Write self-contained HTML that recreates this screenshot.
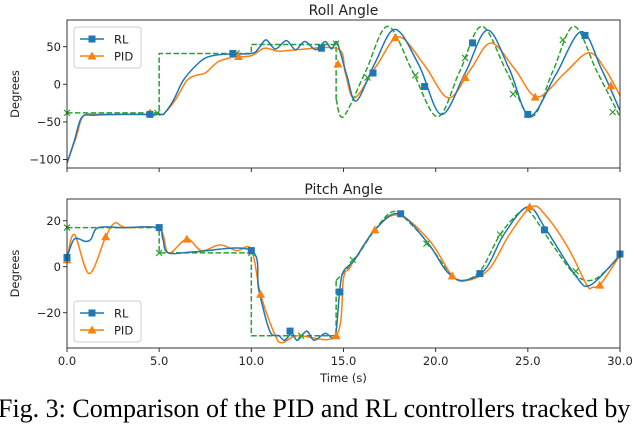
<!DOCTYPE html>
<html><head><meta charset="utf-8">
<style>
html,body{margin:0;padding:0;background:#fff;overflow:hidden;width:640px;height:416px}
svg{display:block;font-family:"DejaVu Sans","Liberation Sans",sans-serif}
.cap{position:absolute;left:-2px;top:394px;font-family:"Liberation Serif",serif;font-size:26px;line-height:30px;white-space:nowrap;color:#000}
</style></head>
<body>
<svg id="chart" width="640" height="416"></svg>
<div class="cap">Fig. 3: Comparison of the PID and RL controllers tracked by</div>
<script>
// ---------- Roll data ----------
const rollRefStepT=[0,5,5,10,10,14.6,14.6];
const rollRefStepV=[-38,-38,41,41,53,53,-20];
const rollRefSinT=[14.6,15.0,16.2,17.4,18.75,20.1,21.3,22.5,23.85,25.2,26.35,27.5,28.75,30];
const rollRefSinV=[-20,-43,17,77,17,-43,17,77,17,-43,17,77,17,-43];
const rollRefMarkT=[0,4.9,9.2,14.6,16.3,18.9,21.6,24.2,26.9,29.6];
const rollRefMarkV=[-38,-38,41,54,9,12,35,-13,59,-37];
const rollRLT=[0,0.4,0.8,1.5,3,5,5.3,5.8,6.3,7,7.6,8.5,10,10.4,10.8,11.3,11.9,12.4,12.9,13.5,14.0,14.35,14.6,14.8,15.2,15.7,16.7,17.8,19.1,20.3,21.6,22.8,24.0,25.1,26.5,27.9,29.0,30];
const rollRLV=[-105,-75,-44,-41,-40,-40,-38,-20,5,25,36,40,41,48,59,47,58,46,57,46,57,47,57,45,10,-22,28,73,25,-40,15,72,20,-42,12,70,20,-35];
const rollRLMarkT=[4.5,9.0,13.8,16.6,19.4,22.0,25.0,28.1];
const rollRLMarkV=[-40,41,48,15,-3,55,-40,65];
const rollPIDT=[0,0.5,0.9,1.8,3,5,5.3,5.9,6.5,7.0,7.5,8.2,9.0,10.0,10.7,11.5,12.5,14.7,15.1,15.6,16.8,18.0,19.4,20.7,21.9,23.0,24.3,25.5,27.0,28.3,29.2,30];
const rollPIDV=[-105,-70,-42,-40,-40,-40,-38,-20,5,12,15,30,36,38,48,44,46,47,15,-18,25,63,25,-18,20,55,20,-17,15,42,20,-15];
const rollPIDMarkT=[4.5,9.3,14.7,17.8,21.6,25.4,29.5];
const rollPIDMarkV=[-38,37,27,62,9,-17,-2];
// ---------- Pitch data ----------
const pitchRefStepT=[0,5,5,10,10,14.6,14.6];
const pitchRefStepV=[17,17,6,6,-30,-30,-6];
const pitchRefSinT=[14.6,15.6,16.7,17.7,18.6,19.6,20.5,21.3,22.4,23.5,24.6,25.1,26.3,27.5,28.4,29.2,30];
const pitchRefSinV=[-6,3,16,24,19,10,0,-6,-2,14,24,24,10,-3,-6,-2,5];
const pitchRefMarkT=[0,5.0,10.0,12.7,15.5,19.5,23.5,27.6];
const pitchRefMarkV=[17,6,6,-30,3,10,14,-2];
const pitchRLT=[0,0.4,1.0,1.3,1.7,3,4.9,5.2,5.5,7,10,10.4,11.0,11.5,11.8,12.2,12.5,13.0,13.4,14.0,14.4,14.6,14.8,15.0,15.6,16.7,18.0,19.6,20.6,21.5,22.7,23.7,25.0,26.0,27.6,28.4,30];
const pitchRLV=[4,12,11,12,17,17,17,12,6,6.5,7,-10,-28,-30,-32,-29,-32,-28,-32,-29,-31,-28,-10,-2,3,16,23,10,-2,-6,-1,14,26,16,-4,-8,5];
const pitchRLMarkT=[0,5.0,10.0,12.1,14.8,18.1,22.4,25.9,30];
const pitchRLMarkV=[4,17,7,-28,-11,23,-3,16,5.5];
const pitchPIDT=[0,0.4,1.2,2.1,2.6,3.2,5.0,5.5,6.5,7.3,8.3,9.2,10.0,10.5,11.3,11.7,12.5,14.6,15.0,15.3,15.6,16.7,18.0,19.7,20.9,21.7,22.9,24.0,25.2,26.0,27.2,28.2,28.5,29.0,30];
const pitchPIDV=[3,14,-3,13,19,17,16.5,6,12,7,9.5,7,7.5,-12,-30,-33,-30,-30,-5,-1,3,16,22.5,11,-4,-6,-1,14,26,22,8,-8,-9,-7,5];
const pitchPIDMarkT=[0,2.1,6.5,10.5,14.6,16.7,20.9,25.1,28.9];
const pitchPIDMarkV=[3,13,12,-12,-30,16,-4,26,-8];

const NS='http://www.w3.org/2000/svg';
const svg=document.getElementById('chart');
function el(tag,attrs,parent){const e=document.createElementNS(NS,tag);for(const k in attrs)e.setAttribute(k,attrs[k]);(parent||svg).appendChild(e);return e;}
const X0=67,X1=620;
function sx(t){return X0+(t/30)*(X1-X0);}
function axisY(y0px,v0,pxPerUnit){return v=>y0px-v*pxPerUnit;}
function smoothPath(ts,vs,sx,sy){
  const p=ts.map((t,i)=>[sx(t),sy(vs[i])]);
  let d='M'+p[0][0].toFixed(2)+','+p[0][1].toFixed(2);
  for(let i=0;i<p.length-1;i++){
    const a=p[i-1]||p[i],b=p[i],c=p[i+1],e=p[i+2]||c;
    const c1=[b[0]+(c[0]-a[0])/6,b[1]+(c[1]-a[1])/6];
    const c2=[c[0]-(e[0]-b[0])/6,c[1]-(e[1]-b[1])/6];
    d+=' C'+c1[0].toFixed(2)+','+c1[1].toFixed(2)+' '+c2[0].toFixed(2)+','+c2[1].toFixed(2)+' '+c[0].toFixed(2)+','+c[1].toFixed(2);
  }
  return d;
}
function polyPath(ts,vs,sx,sy){return ts.map((t,i)=>(i?'L':'M')+sx(t).toFixed(2)+','+sy(vs[i]).toFixed(2)).join(' ');}
const BLUE='#1f77b4',ORANGE='#ff7f0e',GREEN='#2ca02c';
function square(g,x,y,name){const r=el('rect',{x:x-3.5,y:y-3.5,width:7,height:7,fill:BLUE},g);}
function tri(g,x,y,name){const r=el('polygon',{points:`${x},${y-4.5} ${x+4.5},${y+3.5} ${x-4.5},${y+3.5}`,fill:ORANGE},g);}
function cross(g,x,y,name){const r=el('path',{d:`M${x-3},${y-3}L${x+3},${y+3}M${x-3},${y+3}L${x+3},${y-3}`,stroke:GREEN,'stroke-width':1.2},g);}

function panel(o){
  const g=el('g',{});
  
  
  const sy=axisY(o.zeroPx,0,o.ppu);
  const cid='clip-'+o.name;
  const cp=el('clipPath',{id:cid},g);el('rect',{x:X0,y:o.top,width:X1-X0,height:o.bot-o.top},cp);
  const title=el('text',{x:(X0+X1)/2,y:o.top-5,'text-anchor':'middle','font-size':14,fill:'#222'},g);title.textContent=o.title;
  
  const plot=el('g',{'clip-path':`url(#${cid})`},g);
  const r1=el('path',{d:polyPath(o.refStepT,o.refStepV,sx,sy),fill:'none',stroke:GREEN,'stroke-width':1.5,'stroke-dasharray':'5.5,2.4'},plot);
  
  const r2=el('path',{d:smoothPath(o.refSinT,o.refSinV,sx,sy),fill:'none',stroke:GREEN,'stroke-width':1.5,'stroke-dasharray':'5.5,2.4'},plot);
  
  const pid=el('path',{d:smoothPath(o.pidT,o.pidV,sx,sy),fill:'none',stroke:ORANGE,'stroke-width':1.5},plot);
  
  const rl=el('path',{d:smoothPath(o.rlT,o.rlV,sx,sy),fill:'none',stroke:BLUE,'stroke-width':1.5},plot);
  
  o.refMT.forEach((t,i)=>cross(g,sx(t),sy(o.refMV[i]),'reference-marker'));
  o.pidMT.forEach((t,i)=>tri(g,sx(t),sy(o.pidMV[i]),'pid-marker'));
  o.rlMT.forEach((t,i)=>square(g,sx(t),sy(o.rlMV[i]),'rl-marker'));
  const fr=el('rect',{x:X0,y:o.top,width:X1-X0,height:o.bot-o.top,fill:'none',stroke:'#333','stroke-width':1},g);
  
  o.yTicks.forEach((v,i)=>{
    const y=sy(v);
    el('line',{x1:X0-4,x2:X0,y1:y,y2:y,stroke:'#333'},g);
    const t=el('text',{x:X0-6,y:y+4.2,'text-anchor':'end','font-size':11.5,fill:'#222'},g);t.textContent=o.yLabels[i];
    
  });
  xTicks.forEach((v,i)=>{
    el('line',{x1:sx(v),x2:sx(v),y1:o.bot,y2:o.bot+4,stroke:'#333'},g);
    if(o.xlabels){const t=el('text',{x:sx(v),y:o.bot+17,'text-anchor':'middle','font-size':11.5,fill:'#222'},g);t.textContent=xTickLabels[i];
      }
  });
  const yt=el('text',{x:0,y:0,'text-anchor':'middle','font-size':11.5,fill:'#222',transform:`translate(19,${(o.top+o.bot)/2}) rotate(-90)`},g);yt.textContent='Degrees';
  
  const lg=el('g',{},g);
  el('rect',{x:74,y:o.legY,width:67,height:41,rx:3,fill:'#fff','fill-opacity':0.85,stroke:'#ccc'},lg);
  el('line',{x1:80,x2:104,y1:o.legY+12,y2:o.legY+12,stroke:BLUE,'stroke-width':1.5},lg);square(lg,92,o.legY+12,'legend-rl-marker');
  el('line',{x1:80,x2:104,y1:o.legY+29,y2:o.legY+29,stroke:ORANGE,'stroke-width':1.5},lg);tri(lg,92,o.legY+29,'legend-pid-marker');
  const a=el('text',{x:114,y:o.legY+16.5,'font-size':11.5,fill:'#222'},lg);a.textContent='RL';
  const b=el('text',{x:114,y:o.legY+33.5,'font-size':11.5,fill:'#222'},lg);b.textContent='PID';
}
const xTicks=[0,5,10,15,20,25,30];
const xTickLabels=['0.0','5.0','10.0','15.0','20.0','25.0','30.0'];
const rollYTicks=[50,0,-50,-100];
const rollYLabels=['50','0','\u221250','\u2212100'];
const pitchYTicks=[20,0,-20];
const pitchYLabels=['20','0','\u221220'];
panel({name:'roll-panel',title:'Roll Angle',top:20,bot:168,zeroPx:84.3,ppu:0.752,
  refStepT:rollRefStepT,refStepV:rollRefStepV,refSinT:rollRefSinT,refSinV:rollRefSinV,refMT:rollRefMarkT,refMV:rollRefMarkV,
  rlT:rollRLT,rlV:rollRLV,rlMT:rollRLMarkT,rlMV:rollRLMarkV,pidT:rollPIDT,pidV:rollPIDV,pidMT:rollPIDMarkT,pidMV:rollPIDMarkV,
  yTicks:rollYTicks,yLabels:rollYLabels,legY:27,xlabels:false});
panel({name:'pitch-panel',title:'Pitch Angle',top:199,bot:348,zeroPx:266.7,ppu:2.3,
  refStepT:pitchRefStepT,refStepV:pitchRefStepV,refSinT:pitchRefSinT,refSinV:pitchRefSinV,refMT:pitchRefMarkT,refMV:pitchRefMarkV,
  rlT:pitchRLT,rlV:pitchRLV,rlMT:pitchRLMarkT,rlMV:pitchRLMarkV,pidT:pitchPIDT,pidV:pitchPIDV,pidMT:pitchPIDMarkT,pidMV:pitchPIDMarkV,
  yTicks:pitchYTicks,yLabels:pitchYLabels,legY:301,xlabels:true});
const xt=el('text',{x:(X0+X1)/2,y:382,'text-anchor':'middle','font-size':11.5,fill:'#222'});xt.textContent='Time (s)';


</script>
</body></html>
